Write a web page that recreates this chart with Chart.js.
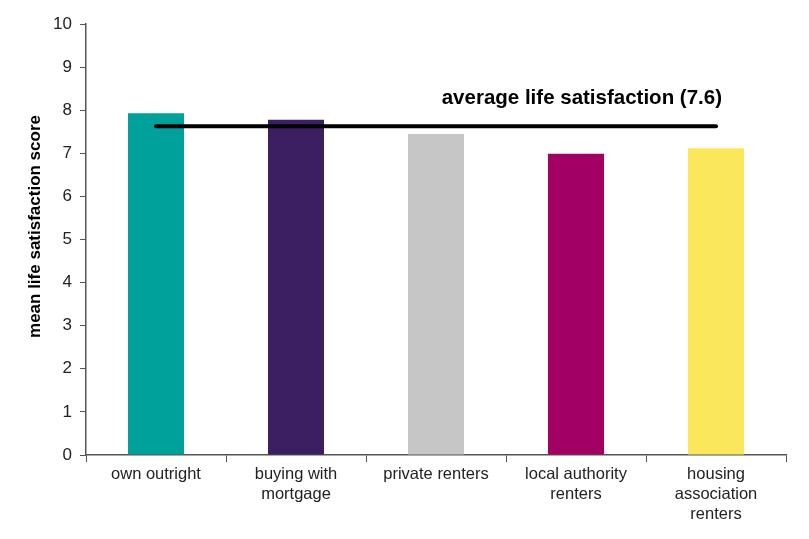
<!DOCTYPE html>
<html>
<head>
<meta charset="utf-8">
<script src="https://cdn.jsdelivr.net/npm/chart.js@4"></script>
<style>
  body { margin: 0; background: #fff; }
  #wrap { width: 809px; height: 539px; }
</style>
</head>
<body>
<div id="wrap"><canvas id="lifeChart" width="809" height="539"></canvas></div>
<script>
const categories = [
  "own outright",
  ["buying with", "mortgage"],
  "private renters",
  ["local authority", "renters"],
  ["housing", "association", "renters"]
];
const meanScores = [7.93, 7.78, 7.45, 6.99, 7.12];
const barColours = ["#00A19A", "#3C1F63", "#C6C6C6", "#A20062", "#FBE75C"];
const averageScore = 7.63;
const averageLabel = "average life satisfaction (7.6)";
const yTitle = "mean life satisfaction score";
const yTicks = [0, 1, 2, 3, 4, 5, 6, 7, 8, 9, 10];

const font = "'Liberation Sans', Arial, sans-serif";

// label above the right end of the average line + y axis title (sits a bit above centre)
const labelsPlugin = {
  id: "extraLabels",
  afterDatasetsDraw(chart) {
    const meta = chart.getDatasetMeta(1);
    const last = meta.data[meta.data.length - 1];
    const ctx = chart.ctx;
    ctx.save();
    ctx.font = "bold 20.5px " + font;
    ctx.fillStyle = "#000";
    ctx.textAlign = "right";
    ctx.textBaseline = "middle";
    ctx.fillText(averageLabel, last.x + 6, last.y - 28);

    const area = chart.chartArea;
    ctx.translate(35, (area.top + area.bottom) / 2 - 13);
    ctx.rotate(-Math.PI / 2);
    ctx.textAlign = "center";
    ctx.font = "bold 17px " + font;
    ctx.fillText(yTitle, 0, 0);
    ctx.restore();
  }
};

const ctx = document.getElementById("lifeChart").getContext("2d");
new Chart(ctx, {
  type: "bar",
  data: {
    labels: categories,
    datasets: [
      {
        data: meanScores,
        backgroundColor: barColours,
        barPercentage: 0.4,
        categoryPercentage: 1,
        order: 2
      },
      {
        type: "line",
        data: meanScores.map(() => averageScore),
        borderColor: "#000",
        borderWidth: 4,
        borderCapStyle: "round",
        pointRadius: 0,
        order: 1
      }
    ]
  },
  options: {
    responsive: false,
    animation: false,
    layout: { padding: { top: 24, right: 23, left: 0, bottom: 0 } },
    plugins: {
      legend: { display: false },
      tooltip: { enabled: false }
    },
    scales: {
      x: {
        offset: true,
        grid: {
          offset: true,
          drawOnChartArea: false,
          drawTicks: true,
          tickLength: 7,
          color: "#555"
        },
        border: { color: "#555", width: 1.5 },
        ticks: {
          color: "#222",
          font: { family: font, size: 16.5, lineHeight: "20px" },
          maxRotation: 0,
          autoSkip: false,
          padding: 2
        },
        afterFit(scale) { scale.height = 84; }
      },
      y: {
        min: 0,
        max: 10,
        afterBuildTicks(scale) { scale.ticks = yTicks.map(v => ({ value: v })); },
        grid: {
          drawOnChartArea: false,
          drawTicks: true,
          tickLength: 6,
          color: "#555"
        },
        border: { color: "#555", width: 1.5 },
        ticks: {
          color: "#222",
          font: { family: font, size: 17 },
          padding: 8
        },
        afterFit(scale) { scale.width = 86; }
      }
    }
  },
  plugins: [labelsPlugin]
});
</script>
</body>
</html>
